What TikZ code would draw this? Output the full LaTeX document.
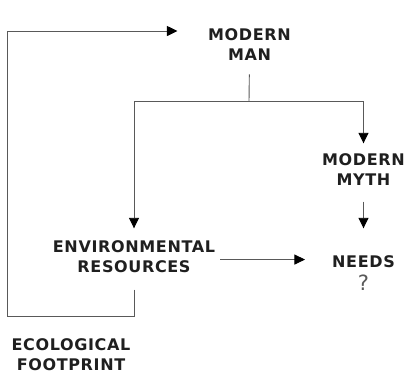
\documentclass[tikz,border=0pt]{standalone}
\usepackage{fontspec}
\setmainfont{DejaVu Sans}
\newfontfamily\termfont[LetterSpace=4]{DejaVu Sans}
\usetikzlibrary{arrows.meta}
\begin{document}
\begin{tikzpicture}[x=1pt, y=-1pt,
    term/.style={anchor=north, align=center, inner sep=0pt, text=black!88, font=\termfont\bfseries\fontsize{16pt}{20pt}\selectfont},
    line/.style={draw, black!65, line width=0.9pt},
    arrow/.style={line, -{Triangle[length=10.5pt, width=10pt, color=black]}}
    ]
    \useasboundingbox (0,0) rectangle (418,373);

    \node [term] (man) at (249.5,28.3) {MODERN\\MAN};
    \node [term] (myth) at (363.5,153.3) {MODERN\\MYTH};
    \node [term] (env) at (134,240) {ENVIRONMENTAL\\RESOURCES};
    \node [term] (needs) at (363.5,255) {NEEDS\\[3pt]{\mdseries\color{black!65}\fontsize{21pt}{21pt}\selectfont ?}};
    \node [term] (foot) at (71,338.3) {ECOLOGICAL\\FOOTPRINT};

    \coordinate (split) at (249,101.7);
    \coordinate (corner) at (7,316);

    \draw [line, shorten <=13.7pt] (man.south) -- (split);
    \draw [arrow, shorten >=11.7pt] (split) -| (env);
    \draw [arrow, shorten >=10pt] (split) -| (myth);
    \draw [arrow, shorten <=16pt, shorten >=26.7pt] (myth.south) -- (needs.north);
    \draw [arrow, shorten <=5pt, shorten >=27pt] ([yshift=-3.3pt]env.east) -- ([yshift=-3.3pt]env.east -| needs.west);
    \draw [arrow, shorten <=17pt, shorten >=30.5pt] (env.south) |- (corner) |- ([yshift=-2.7pt]man.north west);
\end{tikzpicture}
\end{document}
